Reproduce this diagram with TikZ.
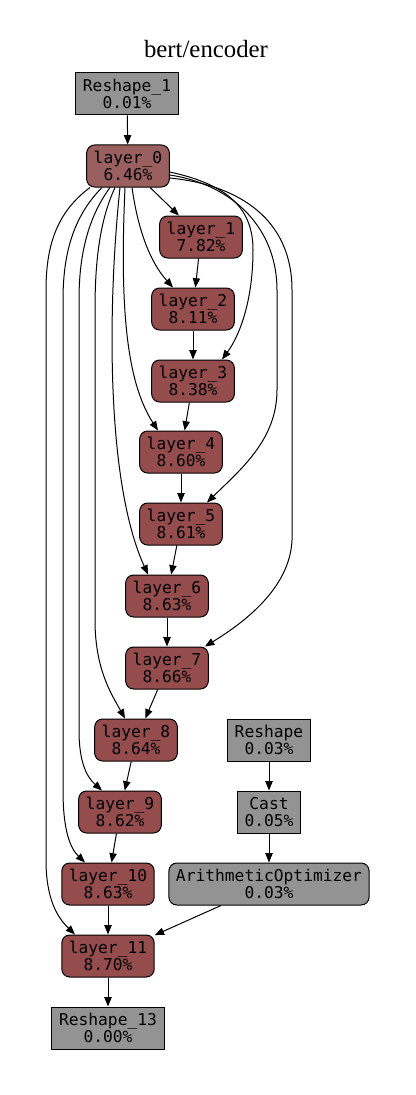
\documentclass[tikz,border=0pt]{standalone}
\usepackage{fontspec}
\setmainfont{Liberation Serif}
\setmonofont{DejaVu Sans Mono}
\usepackage{xcolor}
\usetikzlibrary{calc,arrows.meta}
\definecolor{opgray}{HTML}{939393}
\definecolor{layerred}{HTML}{944C4C}
\definecolor{layerfirst}{HTML}{9A5F5F}
\tikzset{
  op/.style={draw=black, fill=opgray, line width=0.75pt, align=center,
    inner xsep=5.3pt, minimum height=31.5pt,
    font=\ttfamily\fontsize{12.2}{12.8}\selectfont},
  layer/.style={op, fill=layerred, rounded corners=6pt},
  edge/.style={line width=0.75pt, -{Triangle[length=7pt,width=5.5pt]}}
}

\begin{document}
\begin{tikzpicture}[x=0.75pt, y=-0.75pt]
\useasboundingbox (0,0) rectangle (415,1095);
\node[font=\fontsize{18.6}{20}\selectfont, anchor=base] (title) at (206,58) {bert/encoder};

% ops
\node[op] (reshape1) at (127,94) {Reshape\_1\\0.01\%};
\node[layer, fill=layerfirst] (l0) at (128,166) {layer\_0\\6.46\%};
\node[layer] (l1) at (201,237) {layer\_1\\7.82\%};
\node[layer] (l2) at (193,309) {layer\_2\\8.11\%};
\node[layer] (l3) at (193,381) {layer\_3\\8.38\%};
\node[layer] (l4) at (181,452) {layer\_4\\8.60\%};
\node[layer] (l5) at (181,524) {layer\_5\\8.61\%};
\node[layer] (l6) at (167,596) {layer\_6\\8.63\%};
\node[layer] (l7) at (167,668) {layer\_7\\8.66\%};
\node[layer] (l8) at (136,740) {layer\_8\\8.64\%};
\node[layer] (l9) at (120,812) {layer\_9\\8.62\%};
\node[layer] (l10) at (108,884) {layer\_10\\8.63\%};
\node[layer] (l11) at (108,956) {layer\_11\\8.70\%};
\node[op] (reshape13) at (108,1028) {Reshape\_13\\0.00\%};
\node[op] (reshape) at (269,740) {Reshape\\0.03\%};
\node[op] (cast) at (269,812) {Cast\\0.05\%};
\node[op, rounded corners=6pt] (arith) at (269,884) {ArithmeticOptimizer\\0.03\%};

% straight edges
\foreach \a/\b in {reshape1/l0, l0/l1, l1/l2, l2/l3, l3/l4, l4/l5, l5/l6, l6/l7,
    l7/l8, l8/l9, l9/l10, l10/l11, l11/reshape13, reshape/cast, cast/arith, arith/l11}
  \draw[edge] (\a) -- (\b);

% skip edges, left side
\draw[edge] ($(l0.south)+(4,0)$) .. controls (138,230) and (150,262) .. ($(l2.north)+(-20,0)$);
\draw[edge] ($(l0.south)+(-3,0)$) .. controls (120,300) and (125,380) .. ($(l4.north)+(-23,0)$);
\draw[edge] ($(l0.south)+(-8,0)$) .. controls (108,300) and (105,480) .. ($(l6.north)+(-19,0)$);
\draw[edge] ($(l0.south)+(-13,0)$) .. controls (100,220) and (95,260) .. (95,310)
  -- (95,620) .. controls (95,670) and (112,695) .. ($(l8.north)+(-11,0)$);
\draw[edge] ($(l0.south)+(-18,0)$) .. controls (90,215) and (79,250) .. (79,300)
  -- (79,730) .. controls (79,765) and (88,778) .. ($(l9.north)+(-18,0)$);
\draw[edge] ($(l0.south)+(-26,0)$) .. controls (75,215) and (63,250) .. (63,300)
  -- (63,790) .. controls (63,830) and (70,848) .. ($(l10.north)+(-23,0)$);
\draw[edge] ($(l0.south)+(-38,0)$) .. controls (60,210) and (46,240) .. (46,290)
  -- (46,860) .. controls (46,900) and (58,918) .. ($(l11.north)+(-33,0)$);

% skip edges, right side
\draw[edge] ($(l0.east)+(0,6)$) .. controls (230,185) and (253,210) .. (253,250)
  .. controls (253,300) and (240,335) .. ($(l3.north)+(29,0)$);
\draw[edge] ($(l0.east)+(0,9)$) .. controls (235,185) and (277,230) .. (277,290)
  -- (277,390) .. controls (277,440) and (240,470) .. ($(l5.north)+(26,0)$);
\draw[edge] ($(l0.east)+(0,12)$) .. controls (240,185) and (292,220) .. (292,290)
  -- (292,540) .. controls (290,590) and (240,625) .. ($(l7.north)+(38,0)$);
\end{tikzpicture}
\end{document}
